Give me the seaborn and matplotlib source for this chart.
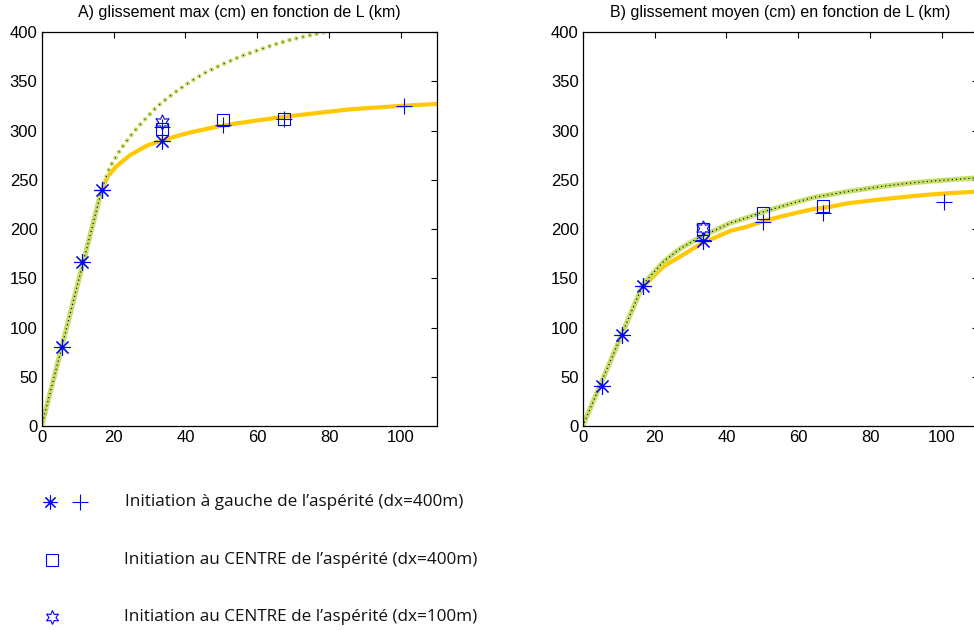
import matplotlib
matplotlib.use("Agg")
import matplotlib.pyplot as plt
import seaborn as sns
import numpy as np

# ---------------- data ----------------
# Panel A : glissement max (cm) vs L (km)
A_lin_x = [0, 16.7]
A_lin_y = [0, 240]
A_green_x = [16.7, 19.0, 21.8, 24.6, 27.4, 32.0, 36.6, 41.3, 45.9, 50.5, 55.2, 59.8, 64.5, 69.1, 73.8, 78.8]
A_green_y = [240, 263, 280, 294, 306, 324, 337.5, 349.5, 359.5, 367.5, 375, 381, 387, 392, 396, 400]
A_orange_x = [0, 16.7, 18.5, 20.9, 24.6, 29.2, 33.8, 41.3, 49.6, 58.5, 67.8, 76.0, 85.8, 100, 110]
A_orange_y = [0, 240, 254, 264, 275, 284.5, 290.5, 298, 304.5, 309.5, 314, 317.5, 321.5, 325, 327]

A_ast_x = [5.6, 11.2, 16.7, 33.5]
A_ast_y = [80, 166, 240, 289.5]
A_plus_x = [16.7, 33.5, 50.4, 67.3, 100.7]
A_plus_y = [240, 304, 305.5, 311.3, 325]
A_sq_x = [33.6, 50.4, 67.3]
A_sq_y = [302, 311, 312]
A_star_x = [33.6]
A_star_y = [309]

# Panel B : glissement moyen (cm) vs L (km)
B_green_x = [0, 16.7, 17.8, 22.5, 27.1, 33.6, 36.4, 41.0, 45.7, 50.3, 55.0, 59.6, 64.2, 68.9, 73.5, 78.2, 82.8, 87.5, 92.1, 96.7, 101.4, 110]
B_green_y = [0, 143, 148, 167, 180, 194, 198, 206, 211.5, 217.5, 222.6, 227.5, 232, 235, 238, 240.5, 243, 245.2, 247, 248.5, 249.8, 252]
B_orange_x = [0, 16.7, 17.8, 22.5, 27.1, 33.6, 36.4, 41.0, 45.7, 50.3, 55.0, 59.6, 64.2, 68.9, 73.5, 78.2, 82.8, 87.5, 92.1, 96.7, 101.4, 110]
B_orange_y = [0, 142, 145, 162, 172, 186.5, 190.6, 198, 202.3, 208, 212.5, 216.5, 220.3, 222.5, 226, 228, 230, 231.8, 233.5, 235, 236.2, 238]

B_ast_x = [5.3, 10.9, 16.7, 33.4]
B_ast_y = [41, 92.4, 142.5, 188]
B_plus_x = [16.7, 33.4, 50.3, 67.0, 100.5]
B_plus_y = [142.5, 189, 207.4, 216, 227.8]
B_sq_x = [33.4, 50.3, 67.0]
B_sq_y = [199.7, 216, 223.7]
B_star_x = [33.4]
B_star_y = [201]

x_ticks = [0, 20, 40, 60, 80, 100]
y_ticks = [0, 50, 100, 150, 200, 250, 300, 350, 400]

titles = ["A) glissement max (cm) en fonction de L (km)",
          "B) glissement moyen (cm) en fonction de L (km)"]
legend_labels = ["Initiation à gauche de l’aspérité (dx=400m)",
                 "Initiation au CENTRE de l’aspérité (dx=400m)",
                 "Initiation au CENTRE de l’aspérité (dx=100m)"]

# ---------------- style ----------------
sns.set_theme(style="white")
plt.rcParams['font.family'] = ['Liberation Sans', 'DejaVu Sans']
plt.rcParams['lines.scale_dashes'] = False

GREEN = "#c6df6a"
ORANGE = "#ffc800"
BLUE = "#0000ff"
AST = (8, 2, 0)
HEX = (6, 1, 0)

fig = plt.figure(figsize=(9.74, 6.30), dpi=100)
axA = fig.add_axes([0.0428, 0.3238, 0.4058, 0.6254])
axB = fig.add_axes([0.5983, 0.3238, 0.4058, 0.6254])


def line(ax, x, y, **kw):
    sns.lineplot(x=x, y=y, ax=ax, estimator=None, sort=False, legend=False, **kw)


def marks(ax, x, y, marker, ms):
    sns.lineplot(x=x, y=y, ax=ax, estimator=None, sort=False, legend=False,
                 linestyle='', marker=marker, markersize=ms,
                 markerfacecolor='none', markeredgecolor=BLUE,
                 markeredgewidth=0.8, color=BLUE, zorder=5)


# Panel A curves
line(axA, A_orange_x, A_orange_y, color=ORANGE, linewidth=3.0, solid_capstyle='round')
line(axA, A_lin_x, A_lin_y, color=GREEN, linewidth=3.6, solid_capstyle='round')
line(axA, A_lin_x, A_lin_y, color='black', linewidth=1.0,
     linestyle=(0, (0.01, 3.0)), dash_capstyle='round')
line(axA, A_green_x, A_green_y, color=GREEN, linewidth=3.4,
     linestyle=(0, (0.01, 5.0)), dash_capstyle='round')
line(axA, A_green_x, A_green_y, color='black', linewidth=0.9,
     linestyle=(0, (0.01, 5.0)), dash_capstyle='round')

# Panel B curves
line(axB, B_orange_x, B_orange_y, color=ORANGE, linewidth=3.0, solid_capstyle='round')
line(axB, B_green_x, B_green_y, color=GREEN, linewidth=3.6, solid_capstyle='round')
line(axB, B_green_x, B_green_y, color='black', linewidth=1.0,
     linestyle=(0, (0.01, 3.0)), dash_capstyle='round')

for ax, ax_, ay_, px_, py_, sx_, sy_, hx_, hy_ in [
        (axA, A_ast_x, A_ast_y, A_plus_x, A_plus_y, A_sq_x, A_sq_y, A_star_x, A_star_y),
        (axB, B_ast_x, B_ast_y, B_plus_x, B_plus_y, B_sq_x, B_sq_y, B_star_x, B_star_y)]:
    marks(ax, ax_, ay_, AST, 12)
    marks(ax, px_, py_, '+', 12)
    marks(ax, sx_, sy_, 's', 9)
    marks(ax, hx_, hy_, HEX, 11)

for ax, title in zip([axA, axB], titles):
    ax.set_xlim(0, 110)
    ax.set_ylim(0, 400)
    ax.set_xticks(x_ticks)
    ax.set_yticks(y_ticks)
    ax.set_xticklabels([str(t) for t in x_ticks])
    ax.set_yticklabels([str(t) for t in y_ticks])
    ax.tick_params(direction='in', top=True, right=True, length=4, width=0.8,
                   labelsize=12, pad=3, colors='black')
    for s in ax.spines.values():
        s.set_color('black')
        s.set_linewidth(0.9)
        s.set_visible(True)
    ax.set_title(title, fontsize=11.5, pad=11, color='black')
    ax.set_xlabel('')
    ax.set_ylabel('')

# ---------------- legend below panel A ----------------
leg = fig.add_axes([0, 0, 1, 1], facecolor='none')
leg.set_xlim(0, 974)
leg.set_ylim(630, 0)
leg.axis('off')
leg_font = ['Open Sans', 'DejaVu Sans']
leg.plot([50], [502], linestyle='', marker=AST, markersize=10,
         markerfacecolor='none', markeredgecolor=BLUE, markeredgewidth=0.8)
leg.plot([80], [502], linestyle='', marker='+', markersize=11,
         markerfacecolor='none', markeredgecolor=BLUE, markeredgewidth=0.8)
leg.plot([52], [560], linestyle='', marker='s', markersize=9,
         markerfacecolor='none', markeredgecolor=BLUE, markeredgewidth=0.8)
leg.plot([52], [617], linestyle='', marker=HEX, markersize=10,
         markerfacecolor='none', markeredgecolor=BLUE, markeredgewidth=0.8)
for yy, xx, txt in zip([502, 560, 617], [125, 124, 124], legend_labels):
    leg.text(xx, yy, txt, fontsize=12.3, family=leg_font, va='center', ha='left',
             color='#111111')

fig.savefig("out.png", dpi=100, facecolor='white')
